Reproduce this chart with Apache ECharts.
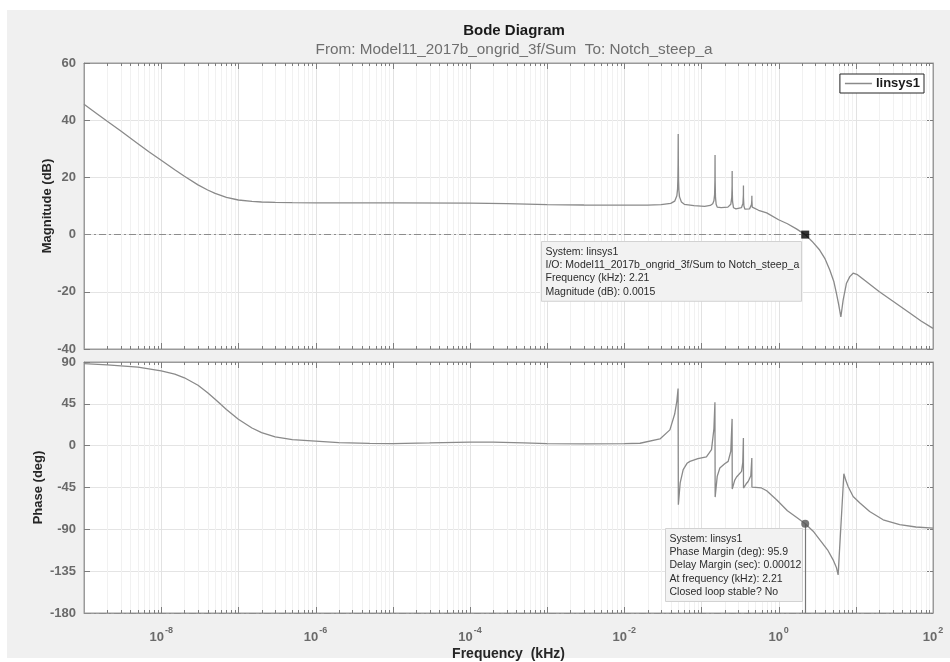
<!DOCTYPE html>
<html>
<head>
<meta charset="utf-8">
<script src="https://cdn.jsdelivr.net/npm/echarts@6.0.0/dist/echarts.min.js"></script>
<style>
  html, body { margin: 0; padding: 0; background: #ffffff; }
  #chart { width: 950px; height: 662px; }
</style>
</head>
<body>
<div id="chart"></div>
<script>
// ---- Magnitude response (frequency in kHz, magnitude in dB) ----
const magFreqKHz = [
  1e-9, 1.5e-9, 2e-9, 3e-9, 5e-9, 7e-9, 1e-8, 1.5e-8, 2e-8, 3e-8, 4e-8, 5e-8, 7e-8,
  1e-7, 1.5e-7, 2e-7, 3e-7, 5e-7, 1e-6, 1e-5, 1e-4, 3e-4, 1e-3, 3e-3, 1e-2, 0.02, 0.03,
  0.04, 0.045, 0.048, 0.049, 0.0495, 0.0498, 0.05, 0.0502, 0.0505, 0.051, 0.052, 0.055,
  0.06, 0.08, 0.11, 0.13, 0.14, 0.145, 0.148, 0.1495, 0.15, 0.1505, 0.152, 0.155, 0.16,
  0.18, 0.22, 0.24, 0.247, 0.2495, 0.25, 0.2505, 0.253, 0.26, 0.28, 0.33, 0.345, 0.3495,
  0.35, 0.3505, 0.355, 0.365, 0.42, 0.445, 0.4495, 0.45, 0.4505, 0.455, 0.47, 0.55, 0.7,
  1.0, 1.3, 1.7, 2.21, 2.7, 3.4, 4.0, 4.6, 5.2, 5.6, 6.0, 6.4, 6.85, 7.57, 8.36, 9.23,
  10.5, 13, 20, 30, 50, 70, 100
];
const magDb = [
  45.6, 42.1, 39.6, 36.2, 31.8, 28.9, 26.0, 22.7, 20.4, 17.4, 15.6, 14.4, 13.0,
  12.1, 11.6, 11.4, 11.25, 11.15, 11.1, 11.1, 11.0, 10.8, 10.5, 10.35, 10.3, 10.3, 10.45,
  10.9, 11.7, 13.6, 15.8, 19.5, 25, 35.2, 25, 19, 15.5, 13.2, 11.4,
  10.6, 10.1, 9.9, 10.2, 10.8, 11.8, 14, 19, 27.8, 19, 13, 10.6, 9.6,
  9.4, 9.6, 10.6, 13, 17, 22.2, 16, 11.5, 9.4, 9.0, 9.4, 11, 14,
  17.2, 13, 10, 8.9, 9.0, 10.5, 12.2, 13.6, 12, 9.6, 9.1, 8.5, 7.6,
  5.2, 3.8, 2.0, 0.0015, -2.3, -5.4, -8.5, -12.4, -16.5, -20.5, -24.5, -28.8, -22.9, -17, -14.7, -13.5,
  -14.0, -16, -19.9, -23.2, -27.4, -30.2, -32.8
];

// ---- Phase response (frequency in kHz, phase in degrees) ----
const phaseFreqKHz = [
  1e-9, 2e-9, 5e-9, 1e-8, 1.5e-8, 2e-8, 3e-8, 4e-8, 5e-8, 6e-8, 7e-8, 1e-7, 1.5e-7, 2e-7,
  3e-7, 5e-7, 1e-6, 2e-6, 5e-6, 1e-5, 3e-5, 1e-4, 2e-4, 5e-4, 1e-3, 3e-3, 1e-2, 0.016,
  0.029, 0.039, 0.045, 0.048, 0.0498, 0.0502, 0.053, 0.058, 0.065, 0.071, 0.09, 0.116,
  0.135, 0.145, 0.1495, 0.1505, 0.16, 0.173, 0.2, 0.222, 0.24, 0.2495, 0.2505, 0.27,
  0.285, 0.331, 0.343, 0.3495, 0.3505, 0.38, 0.403, 0.436, 0.4495, 0.4505, 0.5, 0.6,
  0.7, 0.94, 1.3, 1.7, 2.21, 2.8, 3.42, 4.3, 5.08, 5.6, 5.9, 7.0, 7.4, 7.94, 9.23,
  11.3, 15.1, 22.6, 37, 60, 100
];
const phaseDeg = [
  88.3, 87, 84.5, 80.5, 77, 73, 65, 57, 50, 44, 39, 28.5, 19, 14,
  9.5, 6.5, 4.8, 3.2, 2.4, 2.3, 2.9, 3.8, 3.9, 3.0, 2.3, 1.9, 2.2, 2.6,
  7.2, 17, 34, 48, 61.5, -63.5, -40, -25.8, -19, -16.9, -14, -12,
  -4.3, 18, 46.7, -55.3, -33, -24, -19.5, -16.9, -6, 28.8, -46.6, -37,
  -33.7, -27.7, -18, 8.3, -45.6, -41, -38.5, -32.3, -13.2, -44.5, -44.8, -45.5,
  -48.5, -58.2, -70, -77, -84.1, -92, -101.3, -112, -122.8, -131, -139, -30.2, -37, -44, -54.6,
  -61.7, -70.8, -79.7, -85, -87.5, -88.7
];

// ---- Axis ticks ----
const magTicks = [-40, -20, 0, 20, 40, 60];
const phaseTicks = [-180, -135, -90, -45, 0, 45, 90];
const freqDecades = [-9, -8, -7, -6, -5, -4, -3, -2, -1, 0, 1, 2];

// ---- Data-tip readouts ----
const crossFreqKHz = 2.21;
const crossMagDb = 0.0015;
const phaseMarginDeg = 95.9;
const delayMarginSec = 0.00012;
const phaseAtCross = phaseMarginDeg - 180;

const zip = (xs, ys) => xs.map((x, i) => [x, ys[i]]);
const magData = zip(magFreqKHz, magDb);
const phaseData = zip(phaseFreqKHz, phaseDeg);

// decade and in-decade (2..9 x 10^k) positions for the log grid
const decadeFreqs = freqDecades.map(e => Math.pow(10, e));
const minorFreqs = [];
for (let i = 0; i < freqDecades.length - 1; i++) {
  for (let k = 2; k <= 9; k++) minorFreqs.push(k * Math.pow(10, freqDecades[i]));
}

const FONT = 'Liberation Sans, Arial, Helvetica, sans-serif';
const curveColor = '#8a8a8a';
const axisColor = '#9a9a9a';
const tickColor = '#7d7d7d';
const labelColor = '#6a6a6a';

const xMin = decadeFreqs[0];
const xMax = decadeFreqs[decadeFreqs.length - 1];

function xAxisDef(gridIndex, position) {
  return {
    type: 'log', logBase: 10, gridIndex, position,
    min: xMin, max: xMax,
    axisLine: { show: true, onZero: false, lineStyle: { color: axisColor, width: 1 } },
    axisTick: { show: false },
    splitLine: { show: false },
    axisLabel: { show: false }
  };
}

function yAxisDef(gridIndex, position, min, max, interval, showLabels, showSplit, name, nameGap) {
  return {
    type: 'value', gridIndex, position, min, max, interval,
    axisLine: { show: true, onZero: false, lineStyle: { color: axisColor, width: 1 } },
    axisTick: { show: true, inside: true, length: 6, lineStyle: { color: tickColor } },
    splitLine: { show: showSplit, lineStyle: { color: '#e4e4e4', width: 1 } },
    axisLabel: {
      show: showLabels, margin: 8, fontSize: 13, fontWeight: 'bold',
      color: labelColor, fontFamily: FONT, showMinLabel: true, showMaxLabel: true
    },
    name: name || '', nameLocation: 'middle', nameGap: nameGap || 0, nameRotate: 90,
    nameMoveOverlap: false,
    nameTextStyle: { fontSize: 13, fontWeight: 'bold', color: '#262626', fontFamily: FONT }
  };
}

// vertical log grid: light lines, inside ticks on top and bottom edges, optional decade labels
function logGrid(xi, yi, yVal, freqs, opts) {
  return {
    type: 'custom', xAxisIndex: xi, yAxisIndex: yi, silent: true, z: opts.z,
    clip: false,
    data: freqs.map(f => [f, yVal]),
    renderItem: (params, api) => {
      const f = api.value(0);
      const p = api.coord([f, api.value(1)]);
      const cs = params.coordSys;
      const x = Math.round(p[0]) + 0.5;
      const top = cs.y, bot = cs.y + cs.height;
      const children = [];
      if (x > cs.x + 1 && x < cs.x + cs.width - 1) {
        children.push({ type: 'line', shape: { x1: x, y1: top, x2: x, y2: bot }, style: { stroke: opts.gridColor, lineWidth: 1 } });
        children.push({ type: 'line', shape: { x1: x, y1: top, x2: x, y2: top + opts.tick }, style: { stroke: tickColor, lineWidth: 1 } });
        children.push({ type: 'line', shape: { x1: x, y1: bot - opts.tick, x2: x, y2: bot }, style: { stroke: tickColor, lineWidth: 1 } });
      }
      if (opts.labels) {
        const e = Math.round(Math.log10(f));
        if (e % 2 === 0) {
          children.push({
            type: 'text', x: p[0], y: bot + 13,
            style: {
              text: '{b|10}{s|' + e + '}', align: 'center', verticalAlign: 'top',
              rich: {
                b: { fontSize: 13, fontWeight: 'bold', fill: labelColor, fontFamily: FONT, lineHeight: 18, verticalAlign: 'bottom' },
                s: { fontSize: 9, fontWeight: 'bold', fill: labelColor, fontFamily: FONT, lineHeight: 18, verticalAlign: 'top', padding: [0, 0, 0, 1] }
              }
            }
          });
        }
      }
      return { type: 'group', children };
    }
  };
}

const dashDot = [7, 3, 2, 3];

const option = {
  animation: false,
  backgroundColor: '#ffffff',
  title: [
    { text: 'Bode Diagram', left: 509, top: 18, textAlign: 'center',
      textStyle: { fontSize: 15, fontWeight: 'bold', color: '#1a1a1a', fontFamily: FONT } },
    { text: 'From: Model11_2017b_ongrid_3f/Sum  To: Notch_steep_a', left: 509, top: 37, textAlign: 'center',
      textStyle: { fontSize: 15.3, fontWeight: 'normal', color: '#6e6e6e', fontFamily: FONT } }
  ],
  legend: {
    data: ['linsys1'], right: 26, top: 74, orient: 'horizontal',
    backgroundColor: '#ffffff', borderColor: '#262626', borderWidth: 1,
    padding: [3, 4, 3, 5], itemWidth: 27, itemHeight: 1.5, icon: 'rect',
    textStyle: { fontSize: 13, fontWeight: 'bold', color: '#1a1a1a', fontFamily: FONT, padding: [0, 0, 0, -1] }
  },
  grid: [
    { left: 84, top: 63, width: 849, height: 286, show: true, backgroundColor: '#ffffff', borderColor: axisColor, borderWidth: 1, outerBoundsMode: 'none', containLabel: false },
    { left: 84, top: 362, width: 849, height: 251, show: true, backgroundColor: '#ffffff', borderColor: axisColor, borderWidth: 1, outerBoundsMode: 'none', containLabel: false }
  ],
  xAxis: [
    xAxisDef(0, 'bottom'),
    xAxisDef(0, 'top'),
    Object.assign(xAxisDef(1, 'bottom'), {
      name: 'Frequency  (kHz)', nameLocation: 'middle', nameGap: 34, nameMoveOverlap: false,
      nameTextStyle: { fontSize: 14, fontWeight: 'bold', color: '#262626', fontFamily: FONT }
    }),
    xAxisDef(1, 'top')
  ],
  yAxis: [
    yAxisDef(0, 'left', magTicks[0], magTicks[magTicks.length - 1], 20, true, true, 'Magnitude (dB)', 30),
    yAxisDef(0, 'right', magTicks[0], magTicks[magTicks.length - 1], 20, false, false),
    yAxisDef(1, 'left', phaseTicks[0], phaseTicks[phaseTicks.length - 1], 45, true, true, 'Phase (deg)', 39),
    yAxisDef(1, 'right', phaseTicks[0], phaseTicks[phaseTicks.length - 1], 45, false, false)
  ],
  series: [
    logGrid(0, 0, magTicks[0], minorFreqs, { z: 1, gridColor: '#f1f1f1', tick: 3, labels: false }),
    logGrid(0, 0, magTicks[0], decadeFreqs, { z: 1, gridColor: '#e2e2e2', tick: 6, labels: false }),
    logGrid(2, 2, phaseTicks[0], minorFreqs, { z: 1, gridColor: '#f1f1f1', tick: 3, labels: false }),
    logGrid(2, 2, phaseTicks[0], decadeFreqs, { z: 1, gridColor: '#e2e2e2', tick: 6, labels: true }),
    {
      name: 'linsys1', type: 'line', xAxisIndex: 0, yAxisIndex: 0, data: magData,
      showSymbol: false, symbol: 'none', z: 3,
      lineStyle: { color: curveColor, width: 1.3 }, itemStyle: { color: curveColor },
      markLine: {
        silent: true, symbol: ['none', 'none'], label: { show: false },
        lineStyle: { color: '#8c8c8c', width: 1, type: dashDot },
        data: [{ yAxis: 0 }]
      }
    },
    {
      name: 'linsys1', type: 'line', xAxisIndex: 2, yAxisIndex: 2, data: phaseData,
      showSymbol: false, symbol: 'none', z: 3,
      lineStyle: { color: curveColor, width: 1.3 }, itemStyle: { color: curveColor },
      markLine: {
        silent: true, symbol: ['none', 'none'], label: { show: false },
        lineStyle: { color: '#8c8c8c', width: 1, type: dashDot },
        data: [{ yAxis: -180 }]
      }
    },
    {
      type: 'scatter', xAxisIndex: 0, yAxisIndex: 0, z: 5,
      symbol: 'rect', symbolSize: 8, itemStyle: { color: '#000000' },
      data: [[crossFreqKHz, crossMagDb]]
    },
    {
      type: 'scatter', xAxisIndex: 2, yAxisIndex: 2, z: 5,
      symbol: 'circle', symbolSize: 8, itemStyle: { color: '#555555' },
      data: [[crossFreqKHz, phaseAtCross]],
      markLine: {
        silent: true, symbol: ['none', 'none'], label: { show: false },
        lineStyle: { color: '#777777', width: 1.2, type: 'solid' },
        data: [[{ coord: [crossFreqKHz, phaseAtCross] }, { coord: [crossFreqKHz, phaseTicks[0]] }]]
      }
    }
  ]
};

const chart = echarts.init(document.getElementById('chart'), null, { renderer: 'canvas' });
chart.setOption(option);

// data-tip panels anchored to the two markers
const magPt = chart.convertToPixel({ xAxisIndex: 0, yAxisIndex: 0 }, [crossFreqKHz, crossMagDb]);
const phPt = chart.convertToPixel({ xAxisIndex: 2, yAxisIndex: 2 }, [crossFreqKHz, phaseAtCross]);

const magTip = [
  'System: linsys1',
  'I/O: Model11_2017b_ongrid_3f/Sum to Notch_steep_a',
  'Frequency (kHz): ' + crossFreqKHz,
  'Magnitude (dB): ' + crossMagDb
];
const phaseTip = [
  'System: linsys1',
  'Phase Margin (deg): ' + phaseMarginDeg,
  'Delay Margin (sec): ' + delayMarginSec.toFixed(5),
  'At frequency (kHz): ' + crossFreqKHz,
  'Closed loop stable? No'
];

function tipBox(x, y, w, lines) {
  const lh = 13.2;
  const h = lines.length * lh + 7;
  const x0 = Math.round(x) + 0.5, y0 = Math.round(y) + 0.5;
  return [
    { type: 'rect', z: 100, silent: true, shape: { x: x0, y: y0, width: w, height: h },
      style: { fill: '#f2f2f2', stroke: '#d2d2d2', lineWidth: 1 } },
    { type: 'text', z: 101, silent: true, x: x0 + 4, y: y0 + 4,
      style: { text: lines.join('\n'), fontSize: 10.5, lineHeight: lh, fill: '#2b2b2b', fontFamily: FONT } }
  ];
}

chart.setOption({
  graphic: [
    { type: 'rect', z: -10, silent: true, shape: { x: 7, y: 10, width: 943, height: 648 }, style: { fill: '#f0f0f0' } }
  ].concat(tipBox(magPt[0] - 264, magPt[1] + 6, 260, magTip))
   .concat(tipBox(phPt[0] - 140, phPt[1] + 4, 137, phaseTip))
});
</script>
</body>
</html>
